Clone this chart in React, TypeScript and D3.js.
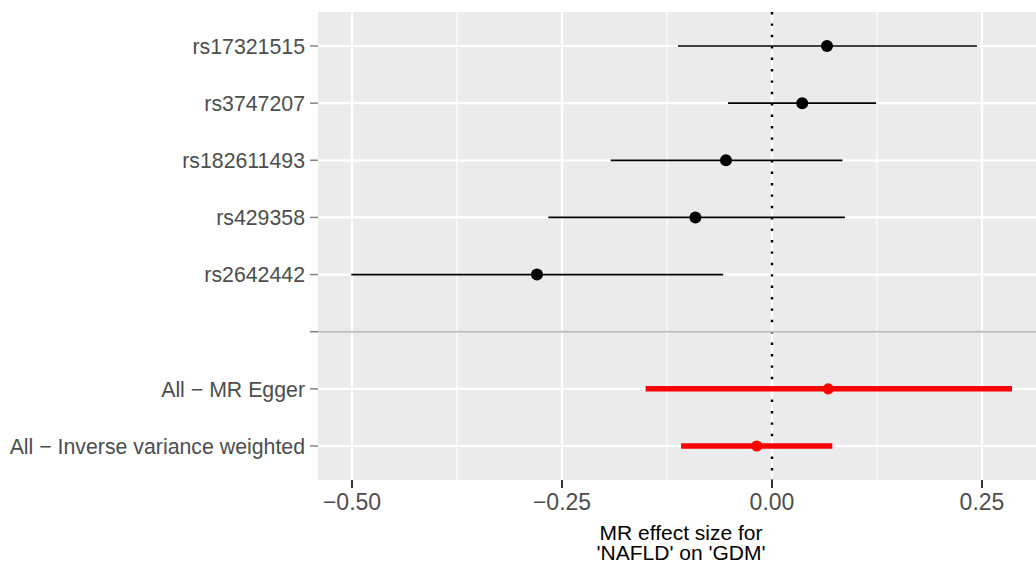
import React from "react";
import * as d3 from "d3";

const categories = [
  "rs17321515",
  "rs3747207",
  "rs182611493",
  "rs429358",
  "rs2642442",
  "",
  "All − MR Egger",
  "All − Inverse variance weighted",
];
const estimate: (number | null)[] = [0.0655, 0.036, -0.0548, -0.0912, -0.2798, null, 0.067, -0.0182];
const lower: (number | null)[] = [-0.112, -0.0524, -0.192, -0.2663, -0.5009, null, -0.1504, -0.1083];
const upper: (number | null)[] = [0.244, 0.124, 0.0838, 0.0867, -0.0581, null, 0.2857, 0.0718];
const isSummary = [false, false, false, false, false, false, true, true];

const xTicks = [-0.5, -0.25, 0, 0.25];
const xMinor = [-0.375, -0.125, 0.125];
const xTickLabels = ["−0.50", "−0.25", "0.00", "0.25"];
const xTitle = ["MR effect size for", "'NAFLD' on 'GDM'"];

const W = 1036;
const H = 568;
const panel = { left: 318, right: 1036, top: 12, bottom: 480 };

export default function App() {
  const x = d3.scaleLinear().domain([-0.5405, 0.3143]).range([panel.left, panel.right]);
  const y = d3.scalePoint<string>().domain(categories.map((c, i) => String(i))).range([46, 446]);
  const font = "'Liberation Sans', Arial, Helvetica, sans-serif";
  const blankIdx = categories.indexOf("");
  const titleX = x(-0.1083);
  return (
    <div style={{ position: "absolute", left: 0, top: 0 }}>
      <svg width={W} height={H} style={{ display: "block", background: "#fff" }} fontFamily={font}>
        <rect x={panel.left} y={panel.top} width={panel.right - panel.left} height={panel.bottom - panel.top} fill="#ebebeb" />
        {xMinor.map((v) => (
          <line key={"mn" + v} x1={x(v)} x2={x(v)} y1={panel.top} y2={panel.bottom} stroke="#fff" strokeWidth={1.2} />
        ))}
        {xTicks.map((v) => (
          <line key={"mj" + v} x1={x(v)} x2={x(v)} y1={panel.top} y2={panel.bottom} stroke="#fff" strokeWidth={2.2} />
        ))}
        {categories.map((c, i) => (
          <line key={"hg" + i} x1={panel.left} x2={panel.right} y1={y(String(i))!} y2={y(String(i))!} stroke="#fff" strokeWidth={2.2} />
        ))}
        <line x1={x(0)} x2={x(0)} y1={panel.top} y2={panel.bottom} stroke="#000" strokeWidth={2.4} strokeDasharray="2.4 9" />
        {categories.map((c, i) => {
          const e = estimate[i];
          const lo = lower[i];
          const hi = upper[i];
          if (e === null || lo === null || hi === null) return null;
          const yy = y(String(i))!;
          const col = isSummary[i] ? "#ff0000" : "#000";
          return (
            <g key={"d" + i}>
              <line x1={x(lo)} x2={x(hi)} y1={yy} y2={yy} stroke={col} strokeWidth={isSummary[i] ? 5.5 : 1.7} />
              <circle cx={x(e)} cy={yy} r={isSummary[i] ? 5.6 : 6} fill={col} />
            </g>
          );
        })}
        <line x1={panel.left} x2={panel.right} y1={y(String(blankIdx))!} y2={y(String(blankIdx))!} stroke="#bebebe" strokeWidth={2} />
        {/* y axis */}
        {categories.map((c, i) => {
          const yy = y(String(i))!;
          return (
            <g key={"yl" + i}>
              <line x1={panel.left - 8} x2={panel.left} y1={yy} y2={yy} stroke="#333" strokeWidth={1.5} opacity={0.6} />
              <text x={panel.left - 13} y={yy} dy="0.36em" textAnchor="end" fontSize={21.3} fill="#4d4d4d">
                {c}
              </text>
            </g>
          );
        })}
        {/* x axis */}
        {xTicks.map((v, i) => (
          <g key={"xt" + v}>
            <line x1={x(v)} x2={x(v)} y1={panel.bottom} y2={panel.bottom + 8} stroke="#333" strokeWidth={2} />
            <text x={x(v)} y={510} textAnchor="middle" fontSize={23} fill="#4d4d4d">
              {xTickLabels[i]}
            </text>
          </g>
        ))}
        {xTitle.map((t, i) => (
          <text key={"tt" + i} x={titleX} y={539.5 + i * 20.5} textAnchor="middle" fontSize={21} fill="#000">
            {t}
          </text>
        ))}
      </svg>
    </div>
  );
}
